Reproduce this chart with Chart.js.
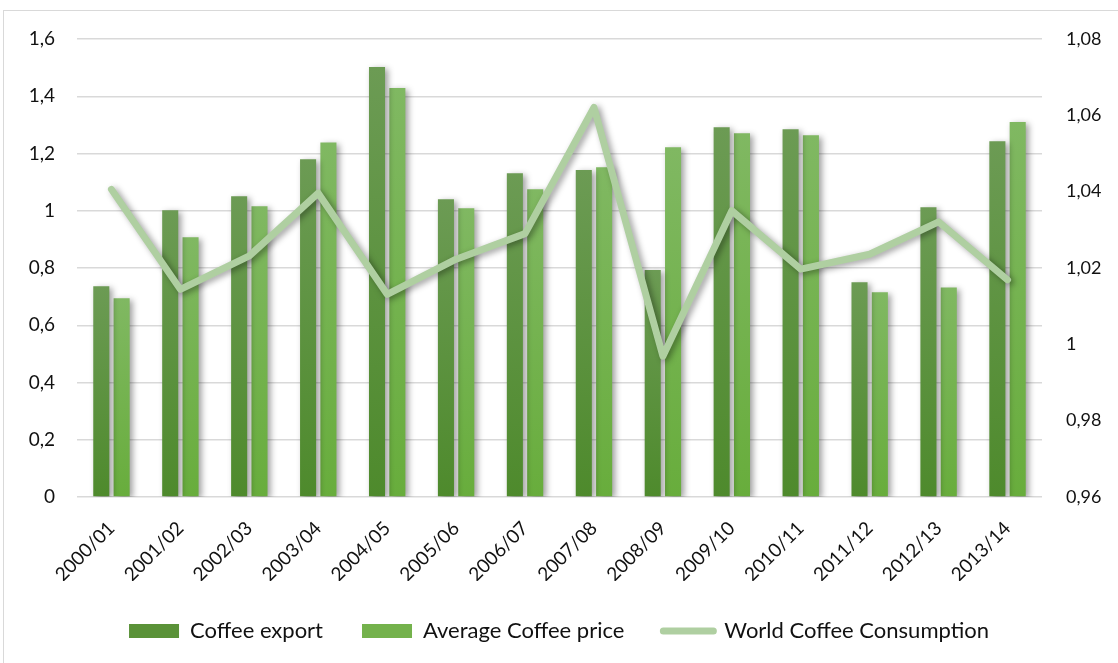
<!DOCTYPE html>
<html>
<head>
<meta charset="utf-8">
<script src="https://cdn.jsdelivr.net/npm/chart.js@4"></script>
<style>
  body { margin: 0; background: #fff; }
  #frame { position: absolute; left: 3px; top: 10px; width: 1300px; height: 800px; border: 1.5px solid #d9d9d9; }
  #wrap { position: absolute; left: 0; top: 0; width: 1118px; height: 663px; }
</style>
</head>
<body>
<div id="frame"></div>
<div id="wrap"><canvas id="chart"></canvas></div>
<script>
const categories = ['2000/01', '2001/02', '2002/03', '2003/04', '2004/05', '2005/06', '2006/07',
                    '2007/08', '2008/09', '2009/10', '2010/11', '2011/12', '2012/13', '2013/14'];
const coffeeExport = [0.736, 1.002, 1.051, 1.180, 1.502, 1.040, 1.131, 1.142, 0.793, 1.292, 1.285, 0.750, 1.012, 1.243];
const avgPrice = [0.694, 0.907, 1.016, 1.238, 1.429, 1.009, 1.075, 1.152, 1.222, 1.271, 1.264, 0.715, 0.732, 1.310];
const consumption = [1.0406, 1.0144, 1.0232, 1.0396, 1.0131, 1.0223, 1.029, 1.0621, 0.9969, 1.035, 1.0197, 1.0236, 1.0321, 1.0169];
const leftTicks = { min: 0, max: 1.6, step: 0.2 };
const rightTicks = { min: 0.96, max: 1.08, step: 0.02 };

const ctx = document.getElementById('chart').getContext('2d');
const FONT = 'Lato, "Open Sans", sans-serif';

function fmt(v, d) {
    return String(Math.round(v * Math.pow(10, d)) / Math.pow(10, d)).replace('.', ',');
}

// per-bar vertical gradient, lighter at the top of each bar
function barGradient(top, bottom) {
    return function (c) {
        const chart = c.chart;
        if (!chart.chartArea || c.raw === undefined) return bottom;
        const y = chart.scales.y;
        const y0 = y.getPixelForValue(c.raw);
        const y1 = y.getPixelForValue(0);
        const g = chart.ctx.createLinearGradient(0, y0, 0, y1);
        g.addColorStop(0, top);
        g.addColorStop(1, bottom);
        return g;
    };
}

const shadow = {
    id: 'shadow',
    beforeDatasetDraw(chart) {
        const c = chart.ctx;
        c.save();
        c.shadowColor = 'rgba(0,0,0,0.38)';
        c.shadowBlur = 6;
        c.shadowOffsetX = 3;
        c.shadowOffsetY = 2;
    },
    afterDatasetDraw(chart) {
        chart.ctx.restore();
    }
};

// keep wide gaps between legend items without the tall legend box
const legendHeight = {
    id: 'legendHeight',
    afterInit(chart) {
        const lg = chart.legend;
        const fit = lg.fit;
        lg.fit = function () {
            fit.call(this);
            this.height = 70;
        };
    }
};

new Chart(ctx, {
    type: 'bar',
    data: {
        labels: categories,
        datasets: [{
            label: 'Coffee export',
            data: coffeeExport,
            backgroundColor: barGradient('#6c9b54', '#4e8a2c'),
            yAxisID: 'y',
            order: 1,
            barPercentage: 0.79,
            categoryPercentage: 0.59
        }, {
            label: 'Average Coffee price',
            data: avgPrice,
            backgroundColor: barGradient('#80b862', '#68ad3c'),
            yAxisID: 'y',
            order: 1,
            barPercentage: 0.79,
            categoryPercentage: 0.59
        }, {
            type: 'line',
            label: 'World Coffee Consumption',
            data: consumption,
            borderColor: '#afcfa1',
            backgroundColor: '#afcfa1',
            borderWidth: 7,
            borderCapStyle: 'round',
            borderJoinStyle: 'round',
            pointRadius: 0,
            tension: 0,
            yAxisID: 'y1',
            order: 0
        }]
    },
    plugins: [shadow, legendHeight],
    options: {
        responsive: true,
        maintainAspectRatio: false,
        animation: false,
        layout: { padding: { top: 39, bottom: 12, left: 0, right: 0 } },
        scales: {
            x: {
                afterFit(s) { s.height = 84; },
                grid: { display: false },
                border: { display: false },
                ticks: { color: '#111', font: { family: FONT, size: 19 }, minRotation: 45, maxRotation: 45, padding: 12 }
            },
            y: {
                position: 'left',
                min: leftTicks.min,
                max: leftTicks.max,
                afterFit(s) { s.width = 77; },
                grid: { color: '#d9d9d9', lineWidth: 1.5, drawTicks: false },
                border: { display: false },
                ticks: { stepSize: leftTicks.step, padding: 22, color: '#111', font: { family: FONT, size: 19 },
                         callback: v => fmt(v, 1) }
            },
            y1: {
                position: 'right',
                min: rightTicks.min,
                max: rightTicks.max,
                afterFit(s) { s.width = 76; },
                grid: { display: false, drawTicks: false },
                border: { display: false },
                ticks: { stepSize: rightTicks.step, padding: 24, color: '#111', font: { family: FONT, size: 18 },
                         callback: v => fmt(v, 2) }
            }
        },
        plugins: {
            legend: {
                position: 'bottom',
                labels: {
                    color: '#111',
                    font: { family: FONT, size: 22 },
                    usePointStyle: true,
                    pointStyleWidth: 50,
                    boxHeight: 14,
                    padding: 39,
                    generateLabels(chart) {
                        const items = Chart.defaults.plugins.legend.labels.generateLabels(chart);
                        const fills = ['#5a9238', '#74b24c', '#afcfa1'];
                        items.sort((a, b) => a.datasetIndex - b.datasetIndex);
                        items.forEach(it => {
                            const i = it.datasetIndex;
                            it.fillStyle = fills[i];
                            it.strokeStyle = fills[i];
                            if (i < 2) {
                                it.pointStyle = 'rect';
                                it.lineWidth = 0;
                            } else {
                                it.pointStyle = 'line';
                                it.lineWidth = 7;
                                it.lineCap = 'round';
                            }
                        });
                        return items;
                    }
                }
            },
            tooltip: { enabled: false }
        }
    }
});
</script>
</body>
</html>
